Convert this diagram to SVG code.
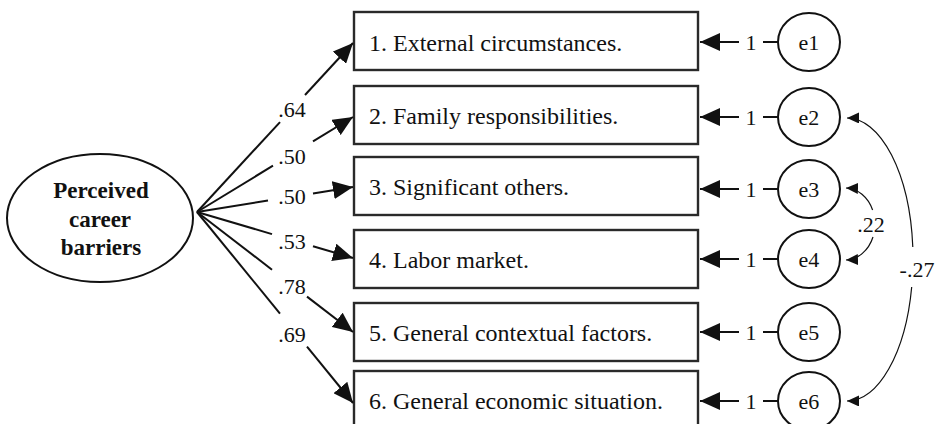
<svg xmlns="http://www.w3.org/2000/svg" width="939" height="424" viewBox="0 0 939 424" font-family="Liberation Serif, Times New Roman, serif">
<style>
.box{fill:#fff;stroke:#2a2a2a;stroke-width:2.4}
.ell{fill:#fff;stroke:#111;stroke-width:2}
.bt{font-size:24px;fill:#111}
.num{font-size:22px;text-anchor:middle;fill:#111}
.lat{font-size:23px;font-weight:bold;text-anchor:middle;fill:#111}
.ln{fill:none;stroke:#111;stroke-width:2}
.cv{fill:none;stroke:#111;stroke-width:1.2}
</style>
<defs>
<marker id="ah" markerUnits="userSpaceOnUse" markerWidth="20" markerHeight="18" refX="20" refY="9" orient="auto" viewBox="0 0 20 18"><path d="M0,0 L20,9 L0,18 z" fill="#111"/></marker>
<marker id="sh" markerUnits="userSpaceOnUse" markerWidth="12" markerHeight="11" refX="12" refY="5.5" orient="auto-start-reverse" viewBox="0 0 12 11"><path d="M0,0 L12,5.5 L0,11 z" fill="#111"/></marker>
</defs>

<g id="latent">
<ellipse class="ell" cx="100" cy="218" rx="93" ry="64"/>
<text class="lat" x="101" y="198">Perceived</text>
<text class="lat" x="100" y="227">career</text>
<text class="lat" x="101" y="255">barriers</text>
</g>

<g id="item1"><rect class="box" x="354" y="12" width="344" height="58"/><text class="bt" x="369" y="51">1. External circumstances.</text></g>
<g id="item2"><rect class="box" x="354" y="86" width="344" height="58"/><text class="bt" x="369" y="124">2. Family responsibilities.</text></g>
<g id="item3"><rect class="box" x="354" y="157" width="344" height="58"/><text class="bt" x="369" y="195">3. Significant others.</text></g>
<g id="item4"><rect class="box" x="354" y="230" width="344" height="58"/><text class="bt" x="369" y="268">4. Labor market.</text></g>
<g id="item5"><rect class="box" x="354" y="303" width="344" height="58"/><text class="bt" x="369" y="341">5. General contextual factors.</text></g>
<g id="item6"><rect class="box" x="354" y="371" width="344" height="58"/><text class="bt" x="369" y="409">6. General economic situation.</text></g>

<g id="e1"><ellipse class="ell" cx="809" cy="42" rx="31" ry="29"/><text class="num" x="809" y="50">e1</text></g>
<g id="e2"><ellipse class="ell" cx="809" cy="117" rx="31" ry="29"/><text class="num" x="809" y="125">e2</text></g>
<g id="e3"><ellipse class="ell" cx="809" cy="189" rx="31" ry="29"/><text class="num" x="809" y="197">e3</text></g>
<g id="e4"><ellipse class="ell" cx="809" cy="259" rx="31" ry="29"/><text class="num" x="809" y="267">e4</text></g>
<g id="e5"><ellipse class="ell" cx="809" cy="332" rx="31" ry="29"/><text class="num" x="809" y="340">e5</text></g>
<g id="e6"><ellipse class="ell" cx="809" cy="401" rx="31" ry="29"/><text class="num" x="809" y="409">e6</text></g>

<g id="connectors">
<line class="ln" x1="197" y1="212" x2="280" y2="122.1"/>
<line class="ln" x1="305" y1="95" x2="353" y2="43" marker-end="url(#ah)"/>
<text class="num" x="292" y="117">.64</text>

<line class="ln" x1="197" y1="212" x2="273" y2="165.7"/>
<line class="ln" x1="313" y1="141.4" x2="353" y2="117" marker-end="url(#ah)"/>
<text class="num" x="292" y="164">.50</text>

<line class="ln" x1="197" y1="212" x2="268" y2="200.6"/>
<line class="ln" x1="313" y1="193.4" x2="353" y2="187" marker-end="url(#ah)"/>
<text class="num" x="292" y="204">.50</text>

<line class="ln" x1="197" y1="212" x2="272" y2="234.1"/>
<line class="ln" x1="313" y1="246.2" x2="353" y2="258" marker-end="url(#ah)"/>
<text class="num" x="292" y="249">.53</text>

<line class="ln" x1="197" y1="212" x2="272" y2="269.7"/>
<line class="ln" x1="307" y1="296.6" x2="353" y2="332" marker-end="url(#ah)"/>
<text class="num" x="292" y="294">.78</text>

<line class="ln" x1="197" y1="212" x2="280" y2="313.6"/>
<line class="ln" x1="307" y1="346.7" x2="353" y2="403" marker-end="url(#ah)"/>
<text class="num" x="292" y="342">.69</text>

<line class="ln" x1="778" y1="42" x2="763" y2="42"/><text class="num" x="751" y="50">1</text><line class="ln" x1="739" y1="42" x2="700" y2="42" marker-end="url(#ah)"/>
<line class="ln" x1="778" y1="117" x2="763" y2="117"/><text class="num" x="751" y="125">1</text><line class="ln" x1="739" y1="117" x2="700" y2="117" marker-end="url(#ah)"/>
<line class="ln" x1="778" y1="189" x2="763" y2="189"/><text class="num" x="751" y="197">1</text><line class="ln" x1="739" y1="189" x2="700" y2="189" marker-end="url(#ah)"/>
<line class="ln" x1="778" y1="259" x2="763" y2="259"/><text class="num" x="751" y="267">1</text><line class="ln" x1="739" y1="259" x2="700" y2="259" marker-end="url(#ah)"/>
<line class="ln" x1="778" y1="332" x2="763" y2="332"/><text class="num" x="751" y="340">1</text><line class="ln" x1="739" y1="332" x2="700" y2="332" marker-end="url(#ah)"/>
<line class="ln" x1="778" y1="401" x2="763" y2="401"/><text class="num" x="751" y="409">1</text><line class="ln" x1="739" y1="401" x2="700" y2="401" marker-end="url(#ah)"/>

<path class="cv" d="M 846 188 A 30 36 0 0 1 872.6 210" marker-start="url(#sh)"/>
<path class="cv" d="M 873 237 A 30 36 0 0 1 846 260" marker-end="url(#sh)"/>
<text class="num" x="871" y="232">.22</text>

<path class="cv" d="M 847 118 A 66 141.5 0 0 1 912.8 247" marker-start="url(#sh)"/>
<path class="cv" d="M 911.7 287 A 66 141.5 0 0 1 847 401" marker-end="url(#sh)"/>
<text class="num" x="917" y="277">-.27</text>
</g>
</svg>
